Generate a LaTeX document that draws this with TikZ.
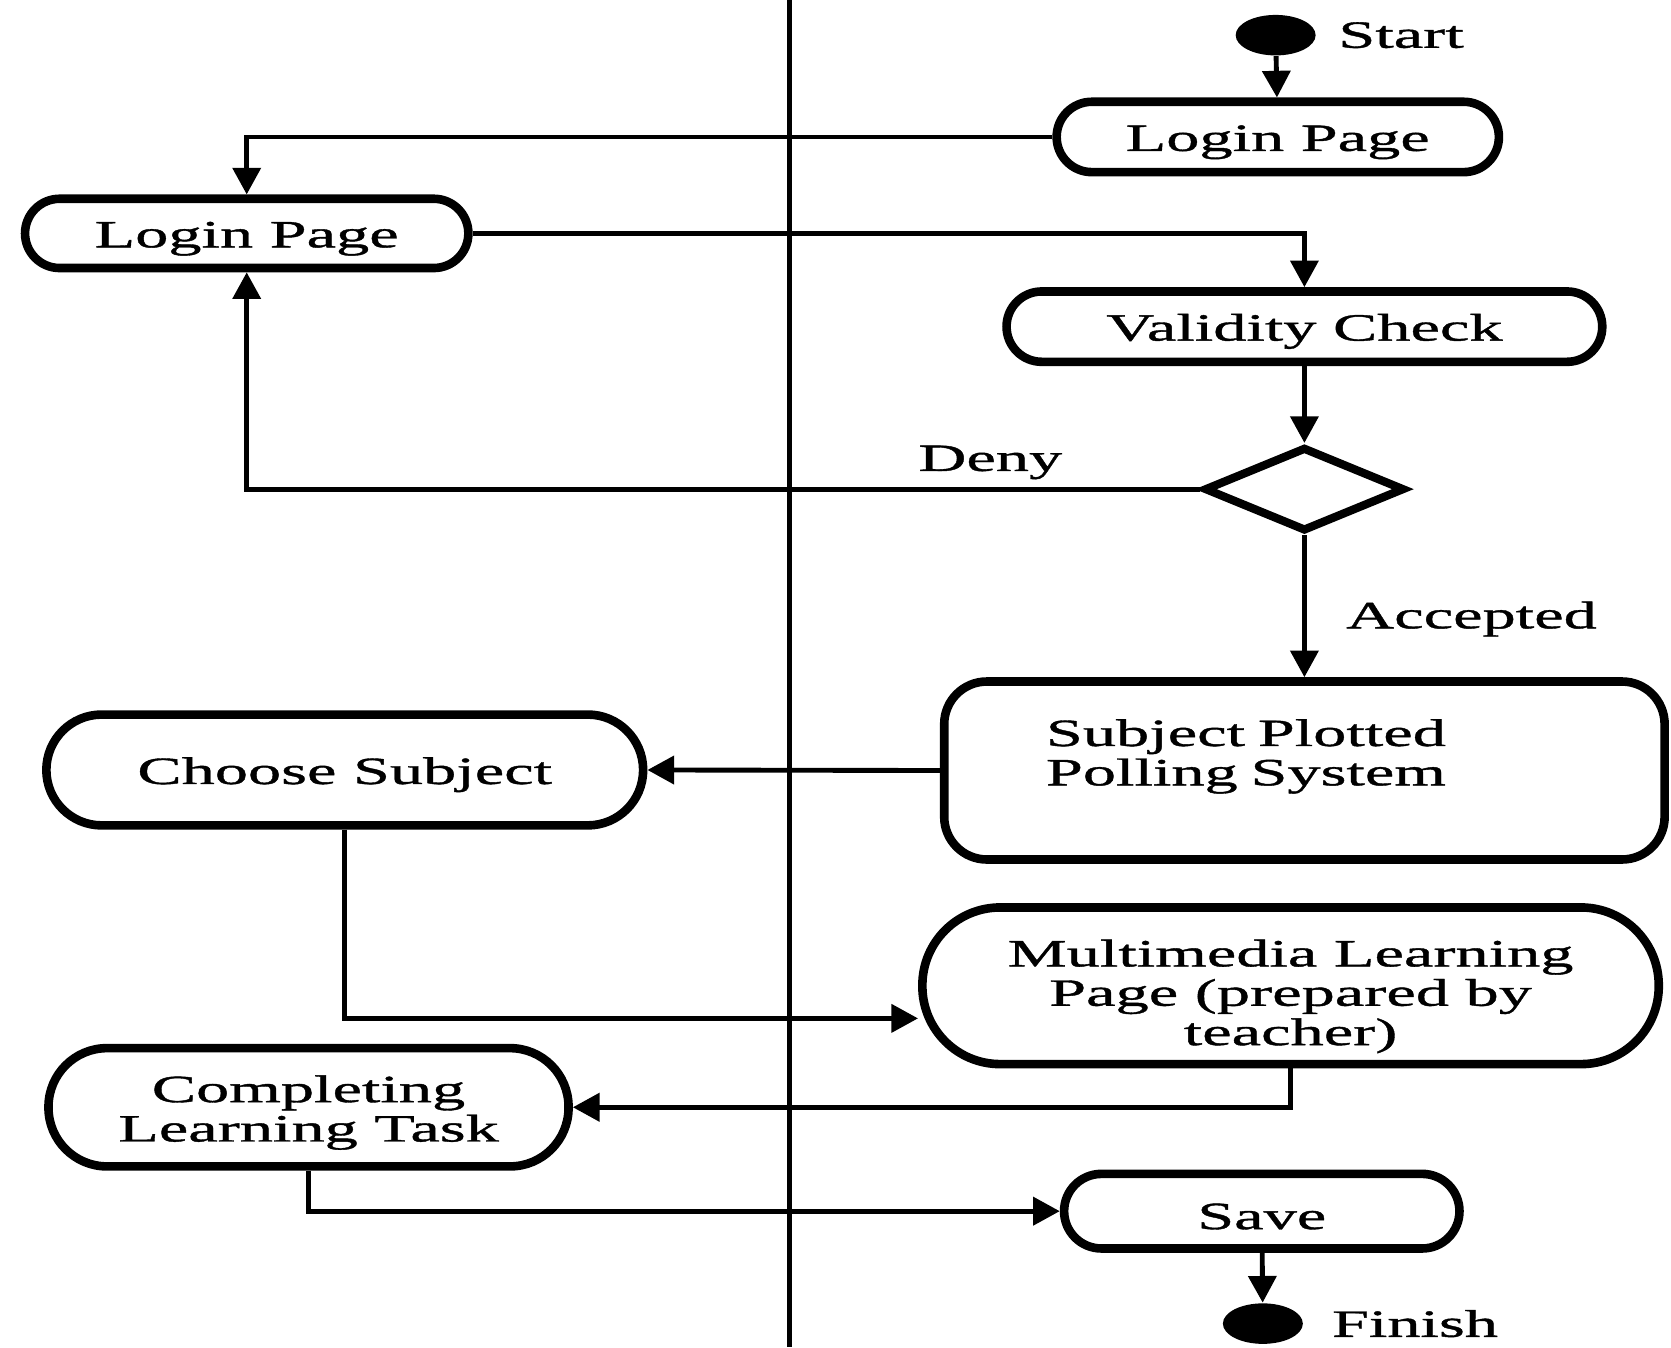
\documentclass[tikz,border=0pt]{standalone}
\usepackage{fontspec}
\setmainfont{Liberation Serif}[FakeStretch=1.72, FakeBold=1]
\usetikzlibrary{shapes.geometric, arrows.meta, positioning}
\tikzset{
    activity/.style={rectangle, draw, line width=2.3pt, align=center, inner sep=0pt, text height=0.34cm, font=\fontsize{10.3}{10.5}\selectfont},
    pill/.style={activity, rounded corners=#1},
    terminal/.style={ellipse, fill, minimum width=0.75cm, minimum height=0.38cm, inner sep=0pt},
    decision/.style={diamond, draw, line width=2.2pt, minimum width=1.88cm, minimum height=0.79cm, inner sep=0pt},
    tag/.style={inner sep=0pt, font=\fontsize{10.3}{10.5}\selectfont},
    arrow/.style={-{Triangle[length=0.25cm, width=0.26cm]}, line width=1.3pt},
    lane/.style={line width=1.5pt}
}

\begin{document}
\begin{tikzpicture}
    \useasboundingbox (0,0) rectangle (15.68,-12.64);
    % swimlane divider
    \draw[lane] (7.41,0) -- (7.41,-12.64);

    \node (start) [terminal] at (11.97,-0.33) {};
    \node (starttag) [tag, right=0.2cm of start] {Start};
    \node (login) [pill=0.33cm, minimum width=4.15cm, minimum height=0.66cm] at (11.99,-1.285) {Login Page};
    \node (login2) [pill=0.325cm, minimum width=4.16cm, minimum height=0.65cm] at (2.315,-2.19) {Login Page};
    \node (check) [pill=0.33cm, minimum width=5.59cm, minimum height=0.66cm] at (12.24,-3.065) {Validity Check};
    \node (dec) [decision] at (12.24,-4.59) {};
    \node (subj) [activity, rounded corners=0.4cm, minimum width=6.76cm, minimum height=1.67cm, align=left, text width=4.85cm, text depth=0.8cm] at (12.24,-7.23) {Subject Plotted\\Polling System};
    \node (choose) [pill=0.52cm, minimum width=5.6cm, minimum height=1.04cm] at (3.235,-7.225) {Choose Subject};
    \node (media) [pill=0.73cm, minimum width=6.91cm, minimum height=1.47cm, text height=1.19cm] at (12.11,-9.25) {Multimedia Learning\\Page (prepared by\\teacher)};
    \node (task) [pill=0.55cm, minimum width=4.88cm, minimum height=1.11cm, text height=0.72cm] at (2.895,-10.39) {Completing\\Learning Task};
    \node (save) [pill=0.35cm, minimum width=3.71cm, minimum height=0.70cm] at (11.84,-11.365) {Save};
    \node (finish) [terminal] at (11.85,-12.42) {};
    \node (finishtag) [tag, right=0.26cm of finish] {Finish};

    \draw[arrow] (start) -- (login);
    \draw[arrow] (login.west) -| (login2.north);
    \draw[arrow] (login2.east) -| (check.north);
    \draw[arrow] (check) -- (dec);
    \draw[arrow] (dec.west) -| node (deny) [tag, pos=0.11, above=0.07cm] {Deny} (login2.south);
    \draw[arrow] (dec.south) -- node (acc) [tag, pos=0.59, right=0.37cm] {Accepted} (subj.north);
    \draw[arrow] (subj.west) -- (choose.east);
    \draw[arrow] (choose.south) |- (media.185);
    \draw[arrow] (media.south) |- (task.east);
    \draw[arrow] (task.south) |- (save.west);
    \draw[arrow] (save) -- (finish);
\end{tikzpicture}
\end{document}
